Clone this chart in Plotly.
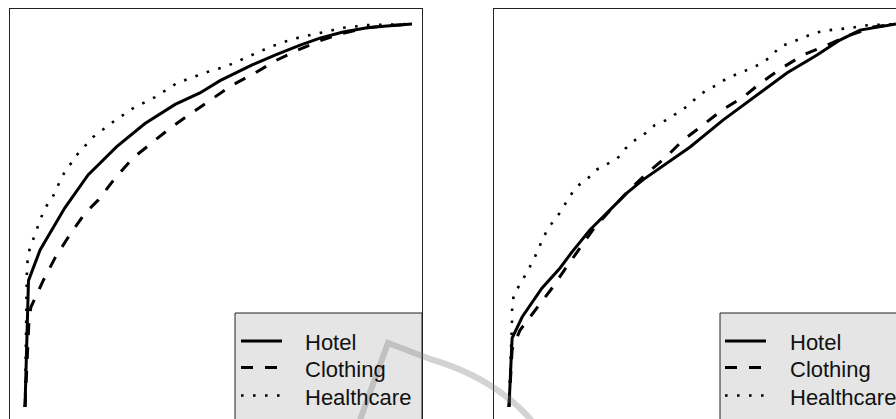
import plotly.graph_objects as go
from plotly.subplots import make_subplots

# ---------------- data ----------------
series_names = ["Hotel", "Clothing", "Healthcare"]

# left panel
left_hotel_x = [0, 0.009, 0.039, 0.085, 0.103, 0.163, 0.237, 0.31, 0.388, 0.452, 0.504, 0.587, 0.646, 0.711, 0.762, 0.822, 0.884, 0.935, 1.0]
left_hotel_y = [0, 0.33, 0.41, 0.49, 0.52, 0.606, 0.68, 0.74, 0.79, 0.82, 0.852, 0.893, 0.919, 0.945, 0.963, 0.979, 0.99, 0.995, 1.0]

left_clothing_x = [0, 0.01, 0.015, 0.047, 0.078, 0.116, 0.155, 0.189, 0.233, 0.279, 0.328, 0.375, 0.431, 0.486, 0.535, 0.594, 0.651, 0.705, 0.767, 0.822, 0.884, 0.94, 1.0]
left_clothing_y = [0, 0.22, 0.26, 0.33, 0.39, 0.45, 0.506, 0.54, 0.598, 0.65, 0.69, 0.728, 0.768, 0.807, 0.84, 0.872, 0.906, 0.932, 0.958, 0.976, 0.99, 0.996, 1.0]

left_health_x = [0, 0.005, 0.008, 0.018, 0.028, 0.039, 0.052, 0.07, 0.098, 0.134, 0.176, 0.227, 0.279, 0.336, 0.393, 0.452, 0.486, 0.517, 0.574, 0.633, 0.692, 0.757, 0.822, 0.884, 1.0]
left_health_y = [0, 0.36, 0.40, 0.43, 0.455, 0.488, 0.52, 0.545, 0.606, 0.658, 0.705, 0.744, 0.78, 0.809, 0.846, 0.867, 0.88, 0.888, 0.914, 0.94, 0.961, 0.976, 0.99, 0.997, 1.0]

# right panel
right_hotel_x = [0, 0.008, 0.034, 0.085, 0.132, 0.163, 0.209, 0.261, 0.305, 0.346, 0.395, 0.468, 0.553, 0.641, 0.718, 0.796, 0.855, 0.907, 0.951, 1.0]
right_hotel_y = [0, 0.18, 0.235, 0.31, 0.363, 0.405, 0.462, 0.514, 0.559, 0.593, 0.627, 0.679, 0.749, 0.815, 0.872, 0.919, 0.958, 0.984, 0.992, 1.0]

right_clothing_x = [0, 0.008, 0.028, 0.072, 0.111, 0.147, 0.183, 0.222, 0.305, 0.357, 0.403, 0.45, 0.501, 0.55, 0.605, 0.654, 0.705, 0.76, 0.822, 0.881, 0.941, 1.0]
right_clothing_y = [0, 0.15, 0.2, 0.258, 0.31, 0.363, 0.415, 0.47, 0.561, 0.611, 0.65, 0.697, 0.736, 0.775, 0.809, 0.849, 0.885, 0.919, 0.945, 0.971, 0.992, 1.0]

right_health_x = [0, 0.008, 0.008, 0.008, 0.013, 0.031, 0.047, 0.062, 0.075, 0.088, 0.103, 0.124, 0.140, 0.156, 0.177, 0.202, 0.225, 0.252, 0.280, 0.301, 0.326, 0.353, 0.377, 0.406, 0.433, 0.459, 0.483, 0.511, 0.538, 0.565, 0.595, 0.624, 0.653, 0.679, 0.700, 0.730, 0.760, 0.788, 0.819, 0.851, 0.885, 0.915, 0.946, 1.0]
right_health_y = [0, 0.2, 0.232, 0.264, 0.295, 0.324, 0.352, 0.381, 0.41, 0.441, 0.47, 0.496, 0.521, 0.549, 0.577, 0.595, 0.619, 0.634, 0.649, 0.675, 0.697, 0.715, 0.736, 0.749, 0.767, 0.784, 0.806, 0.828, 0.841, 0.86, 0.871, 0.884, 0.897, 0.917, 0.941, 0.952, 0.964, 0.976, 0.983, 0.986, 0.99, 0.996, 0.997, 1.0]

# ---------------- styles ----------------
W, H = 896, 419
ML, MR, MT, MB = 10, 0, 9, 0
PW, PH = W - ML - MR, H - MT - MB

def px(xp):
    return (xp - ML) / PW

def py(yp):
    return (H - MB - yp) / PH

styles = {
    "Hotel": dict(color="black", width=3, dash="solid"),
    "Clothing": dict(color="black", width=3, dash="12px,12px"),
    "Healthcare": dict(color="black", width=2.6, dash="2.6px,9.4px"),
}

fig = make_subplots(rows=1, cols=2, horizontal_spacing=0.0)

panels = [
    (1, [(left_hotel_x, left_hotel_y), (left_clothing_x, left_clothing_y), (left_health_x, left_health_y)]),
    (2, [(right_hotel_x, right_hotel_y), (right_clothing_x, right_clothing_y), (right_health_x, right_health_y)]),
]
for col, data in panels:
    for name, (xs, ys) in zip(series_names, data):
        fig.add_trace(go.Scatter(x=xs, y=ys, mode="lines", name=name, line=styles[name],
                                 showlegend=False, hoverinfo="skip"), row=1, col=col)

yrange = [(407 - 419) / 383, (407 - 9) / 383]
left_xrange = [(10 - 25) / 387, (422 - 25) / 387]
right_xrange = [(494 - 509) / 387, (896 - 509) / 387]

axis_common = dict(showgrid=False, zeroline=False, showticklabels=False, ticks="",
                   showline=True, linecolor="#222222", linewidth=1, fixedrange=True)

fig.update_layout(
    width=W, height=H,
    margin=dict(l=ML, r=MR, t=MT, b=MB),
    paper_bgcolor="white", plot_bgcolor="white",
    showlegend=False,
    hovermode=False,
    xaxis=dict(domain=[0, px(422)], range=left_xrange, side="top", **axis_common),
    xaxis2=dict(domain=[px(494), 1.0], range=right_xrange, side="top", **axis_common),
    yaxis=dict(range=yrange, mirror=True, **axis_common),
    yaxis2=dict(range=yrange, mirror=False, **axis_common),
)

# ---------------- manual legends ----------------
shapes = []
annotations = []
legend_boxes = [(235, 422, 241, 303), (720, 905, 725, 788)]
row_y = [341, 367.5, 395.5]
for (bx0, bx1, lx0, tx) in legend_boxes:
    shapes.append(dict(type="rect", xref="paper", yref="paper",
                       x0=px(bx0), x1=px(bx1), y0=py(430), y1=py(313),
                       fillcolor="#e5e5e5", line=dict(color="#222222", width=1), layer="above"))
    for name, yy in zip(series_names, row_y):
        st = styles[name]
        shapes.append(dict(type="line", xref="paper", yref="paper",
                           x0=px(lx0), x1=px(lx0 + 41), y0=py(yy), y1=py(yy),
                           line=dict(color=st["color"], width=st["width"], dash=st["dash"]),
                           layer="above"))
        annotations.append(dict(text=name, xref="paper", yref="paper", x=px(tx), y=py(yy + 1.5),
                                xanchor="left", yanchor="middle", showarrow=False,
                                font=dict(family="Liberation Sans, Arial, sans-serif", size=22, color="#111111")))

# faint watermark arc (decoration from the source page)
wm = [(360, 420), (388, 343), (430, 359)]
ctrl = (495, 378)
end = (532, 421)
path = "M {:.5f},{:.5f} L {:.5f},{:.5f} L {:.5f},{:.5f} Q {:.5f},{:.5f} {:.5f},{:.5f}".format(
    px(wm[0][0]), py(wm[0][1]), px(wm[1][0]), py(wm[1][1]), px(wm[2][0]), py(wm[2][1]),
    px(ctrl[0]), py(ctrl[1]), px(end[0]), py(end[1]))
shapes.append(dict(type="path", xref="paper", yref="paper", path=path,
                   line=dict(color="rgba(120,120,120,0.33)", width=6), layer="above"))

fig.update_layout(shapes=shapes, annotations=annotations)

fig.write_html("out.html",
               config={"displayModeBar": False, "staticPlot": True},
               post_script="document.body.style.margin='0';document.body.style.overflow='hidden';")
